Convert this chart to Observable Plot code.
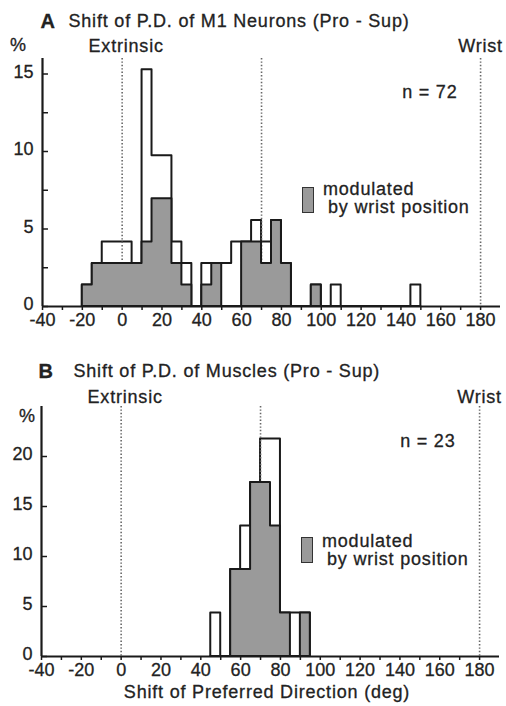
<!DOCTYPE html>
<html><head><meta charset="utf-8">
<script src="https://cdn.jsdelivr.net/npm/d3@7"></script>
<script src="https://cdn.jsdelivr.net/npm/@observablehq/plot@0.6"></script>
<style>
body{margin:0;background:#fff;}
#wrap{position:relative;width:506px;height:706px;font-family:"Liberation Sans",Arial,sans-serif;color:#222;}
#wrap svg{display:block}
#wrap svg text{stroke:#222;stroke-width:0.3px;}
#wrap g[aria-label="text"] text{letter-spacing:0.8px;}
.sw{position:absolute;box-sizing:border-box;background:#9a9a9a;border:1.5px solid #333;}
.lt{position:absolute;font-size:18px;line-height:18px;letter-spacing:0.8px;white-space:nowrap;color:#222;-webkit-text-stroke:0.3px #222;}
</style></head><body><div id="wrap"></div>
<script>
// ---- data: histogram bins (start of each 5-deg bin) and neuron / muscle counts ----
const binWidth = 5;
const binStartA = [-20,-15,-10,-5,0,5,10,15,20,25,30,35,40,45,50,55,60,65,70,75,80,85,90,95,100,105,110,115,120,125,130,135,140,145];
const totalA    = [1,2,3,3,3,2,11,7,7,3,2,0,2,2,2,3,3,4,3,4,2,0,0,1,0,1,0,0,0,0,0,0,0,1];
const modA      = [1,2,2,2,2,2,3,5,5,2,1,0,1,2,0,0,3,3,2,4,2,0,0,1,0,0,0,0,0,0,0,0,0,0];
const nA = 72;
const binStartB = [45,50,55,60,65,70,75,80,85,90];
const totalB    = [1,0,2,3,4,5,5,1,1,1];
const modB      = [0,0,2,2,4,4,3,1,0,1];
const nB = 23;

const refLines = [0, 70, 180];
const refLabels = [{x: 0, t: "Extrinsic"}, {x: 180, t: "Wrist"}];
const xTicks = [-40,-30,-20,-10,0,10,20,30,40,50,60,70,80,90,100,110,120,130,140,150,160,170,180];
const xTickLabels = [-40,-20,0,20,40,60,80,100,120,140,160,180];
const yTicksA = [0,2.5,5,7.5,10,12.5,15];
const yTickLabelsA = [0,5,10,15];
const yTicksB = [0,5,10,15,20];
const yTickLabelsB = [0,5,10,15,20];

const FONT = '"Liberation Sans", Arial, Helvetica, sans-serif';
const INK = "#1a1a1a";
const TXT = "#222";

function steps(starts, counts, n) {
  const pts = starts.map((s, i) => ({x: s, y: counts[i] / n * 100}));
  pts.push({x: starts[starts.length - 1] + binWidth, y: 0});
  return pts;
}

function note(str, o) {
  return Plot.text([str], {frameAnchor: "top-left", lineAnchor: "middle", fontSize: 18, fill: TXT, ...o});
}

function panel(cfg) {
  const {starts, total, mod, n, yDomain, yTicks, yLabels, height, mL, mR, mT, mB, refDy, extra} = cfg;
  return Plot.plot({
    width: 506, height, marginLeft: mL, marginRight: mR, marginTop: mT, marginBottom: mB,
    x: {domain: [-40, 190]},
    y: {domain: yDomain},
    style: {fontFamily: FONT, fontSize: "18px", color: TXT, background: "transparent", overflow: "visible"},
    marks: [
      Plot.areaY(steps(starts, total, n), {x: "x", y: "y", curve: "step-after", fill: "white", stroke: INK, strokeWidth: 2}),
      Plot.ruleX(refLines, {stroke: "#666", strokeWidth: 1.6, strokeDasharray: "1.4,2"}),
      Plot.areaY(steps(starts, mod, n), {x: "x", y: "y", curve: "step-after", fill: "#9a9a9a", stroke: INK, strokeWidth: 2}),
      Plot.axisX({ticks: xTicks, tickSize: 4, tickPadding: 3, stroke: INK, strokeWidth: 1.5,
        tickFormat: d => xTickLabels.includes(d) ? String(d) : "", label: null}),
      Plot.axisY({ticks: yLabels, tickSize: 0, tickPadding: 9, dy: -2, tickFormat: d => String(d), label: null}),
      Plot.ruleY(yTicks, {x1: -40, x2: -37, stroke: INK, strokeWidth: 1.5}),
      Plot.ruleX([-40], {stroke: INK, strokeWidth: 2.2}),
      Plot.ruleY([0], {stroke: INK, strokeWidth: 2.2}),
      Plot.text(refLabels.filter(d => d.x === 0), {x: "x", text: "t", frameAnchor: "top", lineAnchor: "middle", fontSize: 18,
        dy: refDy, dx: 4, fill: TXT}),
      Plot.text(refLabels.filter(d => d.x !== 0), {x: "x", text: "t", frameAnchor: "top", lineAnchor: "middle", fontSize: 18,
        dy: refDy, dx: 0, fill: TXT}),
      ...extra
    ]
  });
}

const wrap = document.getElementById("wrap");

const svgA = panel({
  starts: binStartA, total: totalA, mod: modA, n: nA,
  yDomain: [0, 16], yTicks: yTicksA, yLabels: yTickLabelsA,
  height: 340, mL: 42, mR: 6, mT: 58, mB: 34,
  refDy: -11.8,
  extra: [
    note("A", {textAnchor: "start", dx: -2, dy: -37.4, fontWeight: "bold", fontSize: 20}),
    note("Shift of P.D. of M1 Neurons (Pro - Sup)", {textAnchor: "start", dx: 26, dy: -36.8}),
    note("%", {textAnchor: "middle", dx: -24, dy: -13}),
    note("n = 72", {frameAnchor: "top-right", textAnchor: "end", dx: -43, dy: 34.2})
  ]
});
wrap.appendChild(svgA);

const svgB = panel({
  starts: binStartB, total: totalB, mod: modB, n: nB,
  yDomain: [0, 25], yTicks: yTicksB, yLabels: yTickLabelsB,
  height: 366, mL: 41, mR: 7, mT: 66, mB: 50,
  refDy: -8.8,
  extra: [
    note("B", {textAnchor: "start", dx: -3, dy: -35.4, fontWeight: "bold", fontSize: 20}),
    note("Shift of P.D. of Muscles (Pro - Sup)", {textAnchor: "start", dx: 32, dy: -34.8}),
    note("%", {textAnchor: "middle", dx: -14, dy: 10}),
    note("n = 23", {frameAnchor: "top-right", textAnchor: "end", dx: -44, dy: 35.2}),
    note("Shift of Preferred Direction (deg)", {frameAnchor: "bottom", textAnchor: "middle", dx: -3.5, dy: 36.2})
  ]
});
wrap.appendChild(svgB);

// legends (swatch + two-line label)
function legend(top, left, baseline1) {
  const sw = document.createElement("div");
  sw.className = "sw";
  Object.assign(sw.style, {left: left + "px", top: top + "px", width: "12px", height: "26px"});
  wrap.appendChild(sw);
  const t1 = baseline1 - 15.3;
  const l1 = document.createElement("div");
  l1.className = "lt"; l1.textContent = "modulated";
  Object.assign(l1.style, {left: (left + 21) + "px", top: t1 + "px"});
  wrap.appendChild(l1);
  const l2 = document.createElement("div");
  l2.className = "lt"; l2.textContent = "by wrist position";
  Object.assign(l2.style, {left: (left + 26) + "px", top: (t1 + 18) + "px"});
  wrap.appendChild(l2);
}
legend(187, 302, 195);
legend(537, 301, 547);
</script>
</body></html>
